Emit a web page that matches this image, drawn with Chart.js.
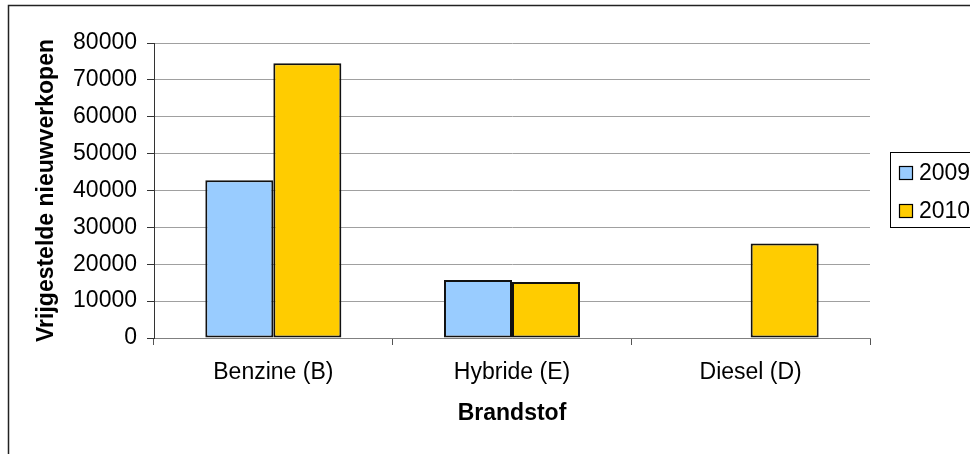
<!DOCTYPE html>
<html>
<head>
<meta charset="utf-8">
<script src="https://cdn.jsdelivr.net/npm/chart.js@4"></script>
<style>
  html, body { margin: 0; padding: 0; background: #fff; overflow: hidden; }
  #wrap { width: 970px; height: 454px; }
</style>
</head>
<body>
<div id="wrap"><canvas id="fuel-chart" width="970" height="454"></canvas></div>
<script>
// Data
const categories = ['Benzine (B)', 'Hybride (E)', 'Diesel (D)'];
const seriesLabels = ['2009', '2010'];
const values2009 = [42800, 15700, 0];
const values2010 = [74500, 15200, 25600];
const yTicks = [0, 10000, 20000, 30000, 40000, 50000, 60000, 70000, 80000];

const FONT = "'Liberation Sans', Arial, sans-serif";
const colors = ['#99CCFF', '#FFCC00'];

// Outer frame of the chart object (only top and left show in the window)
const framePlugin = {
    id: 'frame',
    afterDraw(chart) {
        const c = chart.ctx;
        c.save();
        c.strokeStyle = '#222';
        c.lineWidth = 1.5;
        c.strokeRect(8.5, 5.5, 1200, 1000);
        c.restore();
    }
};

// Boxed legend on the right, partly clipped by the window
const legendPlugin = {
    id: 'boxLegend',
    afterDraw(chart) {
        const c = chart.ctx;
        c.save();
        c.strokeStyle = '#000';
        c.lineWidth = 1;
        c.strokeRect(890.5, 152.5, 150, 75);
        c.font = '23px ' + FONT;
        c.textBaseline = 'middle';
        chart.data.datasets.forEach((ds, i) => {
            const y = 166 + i * 38;
            c.fillStyle = ds.backgroundColor;
            c.fillRect(899, y, 14, 14);
            c.strokeStyle = '#000';
            c.lineWidth = 1.2;
            c.strokeRect(899.5, y + 0.5, 13, 13);
            c.fillStyle = '#000';
            c.fillText(ds.label, 919, y + 8);
        });
        c.restore();
    }
};

const ctx = document.getElementById('fuel-chart').getContext('2d');
new Chart(ctx, {
    type: 'bar',
    data: {
        labels: categories,
        datasets: [
            {
                label: seriesLabels[0],
                data: values2009,
                backgroundColor: colors[0],
                borderColor: '#111',
                borderWidth: (c) => (c.raw === 0 ? 0 : 2),
                borderSkipped: false
            },
            {
                label: seriesLabels[1],
                data: values2010,
                backgroundColor: colors[1],
                borderColor: '#111',
                borderWidth: (c) => (c.raw === 0 ? 0 : 2),
                borderSkipped: false
            }
        ]
    },
    options: {
        responsive: false,
        animation: false,
        categoryPercentage: 0.57,
        barPercentage: 1,
        layout: {
            padding: { left: 0, top: 43, right: 100, bottom: 0 }
        },
        plugins: {
            legend: { display: false },
            tooltip: { enabled: false }
        },
        scales: {
            x: {
                offset: true,
                grid: {
                    display: true,
                    drawOnChartArea: false,
                    drawTicks: true,
                    tickLength: 7,
                    tickColor: '#555',
                    offset: true
                },
                border: { display: true, color: '#808080', width: 1 },
                ticks: {
                    color: '#000',
                    padding: 14,
                    font: { family: FONT, size: 23 }
                },
                title: {
                    display: true,
                    text: 'Brandstof',
                    color: '#000',
                    padding: { top: 0, bottom: 27 },
                    font: { family: FONT, size: 23, weight: 'bold' }
                },
                afterFit(scale) { scale.height = 116; }
            },
            y: {
                min: 0,
                max: 80000,
                afterBuildTicks(scale) {
                    scale.ticks = yTicks.map(v => ({ value: v }));
                },
                grid: {
                    color: '#a0a0a0',
                    lineWidth: 1,
                    drawTicks: true,
                    tickLength: 7,
                    tickColor: '#333'
                },
                border: { display: true, color: '#333', width: 1 },
                ticks: {
                    color: '#000',
                    padding: 10,
                    font: { family: FONT, size: 23 },
                    callback: (value) => String(value)
                },
                title: {
                    display: true,
                    text: 'Vrijgestelde nieuwverkopen',
                    color: '#000',
                    padding: { top: 33, bottom: 0 },
                    font: { family: FONT, size: 23, weight: 'bold' }
                },
                afterFit(scale) { scale.width = 154; }
            }
        }
    },
    plugins: [framePlugin, legendPlugin]
});
</script>
</body>
</html>
